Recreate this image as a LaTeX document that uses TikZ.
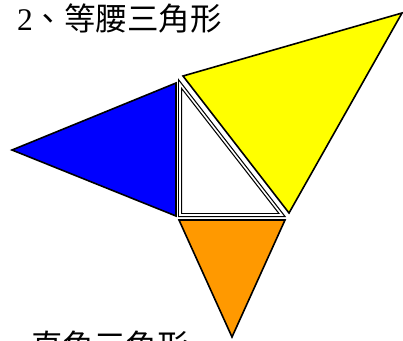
\documentclass[tikz,border=0pt]{standalone}
\usepackage{fontspec}
\setmainfont{Liberation Serif}
\newfontfamily\cjk{Noto Sans CJK TC}
\begin{document}
\begin{tikzpicture}[x=1pt,y=-1pt,
  tri/.style={draw=black,line width=1.6pt,line join=miter},
  dtri/.style={draw=black,line width=1.2pt,double=white,double distance=1.6pt,line join=miter},
  lbl/.style={inner sep=0pt,font=\fontsize{31.5}{31.5}\selectfont}]
\useasboundingbox (0,0) rectangle (403,340);
\definecolor{myblue}{RGB}{0,0,255}
\definecolor{myyellow}{RGB}{255,255,0}
\definecolor{myorange}{RGB}{255,153,0}
% blue
\coordinate (b1) at (12,150);
\coordinate (b2) at (176,83);
\coordinate (b3) at (176,216);
\filldraw[tri,fill=myblue] (b1) -- (b2) -- (b3) -- cycle;
% yellow
\coordinate (y1) at (183,76);
\coordinate (y2) at (402,13);
\coordinate (y3) at (289,213);
\filldraw[tri,fill=myyellow] (y1) -- (y2) -- (y3) -- cycle;
% white
\coordinate (w1) at (180,84);
\coordinate (w2) at (180,215);
\coordinate (w3) at (282,215);
\filldraw[dtri,fill=white] (w1) -- (w2) -- (w3) -- cycle;
% orange
\coordinate (o1) at (179,220);
\coordinate (o2) at (285,220);
\coordinate (o3) at (232,337);
\filldraw[tri,fill=myorange] (o1) -- (o2) -- (o3) -- cycle;
% texts
\node[lbl,anchor=west] (t1) at (17,18) {2\cjk 、等腰三角形};
\node[lbl,anchor=north west] (t2) at (31,331) {\cjk 直角三角形};
\end{tikzpicture}
\end{document}
